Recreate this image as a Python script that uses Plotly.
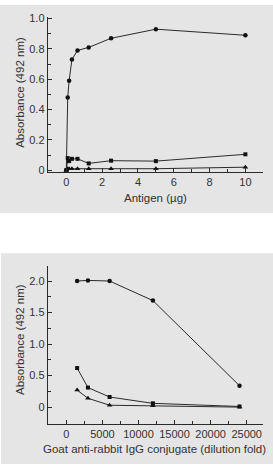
import plotly.graph_objects as go

# ---- Top panel data: Antigen (µg) vs Absorbance ----
antigen = [0, 0.078, 0.156, 0.3125, 0.625, 1.25, 2.5, 5, 10]
top_circle = [0.0, 0.48, 0.59, 0.73, 0.79, 0.81, 0.87, 0.93, 0.89]
top_square = [0.0, 0.08, 0.06, 0.075, 0.075, 0.045, 0.063, 0.06, 0.105]
top_triangle = [0.0, 0.01, 0.01, 0.01, 0.01, 0.01, 0.01, 0.01, 0.02]

# ---- Bottom panel data: conjugate dilution vs Absorbance ----
dilution = [1500, 3000, 6000, 12000, 24000]
bot_circle = [2.0, 2.01, 2.0, 1.69, 0.34]
bot_square = [0.62, 0.31, 0.16, 0.06, 0.01]
bot_triangle = [0.27, 0.14, 0.03, 0.02, 0.0]

top_xticks = [0, 2, 4, 6, 8, 10]
top_yticks = [0, 0.2, 0.4, 0.6, 0.8, 1.0]
top_yticktext = ["0", "0.2", "0.4", "0.6", "0.8", "1.0"]
bot_xticks = [0, 5000, 10000, 15000, 20000, 25000]
bot_xticktext = ["0", "5000", "10000", "15000", "20000", "25000"]
bot_yticks = [0, 0.5, 1.0, 1.5, 2.0]
bot_yticktext = ["0", "0.5", "1.0", "1.5", "2.0"]

W, H = 273, 470
LINE = "#2a2a2a"
TXT = "#333333"
PANEL = "#e5e5e5"
FONT = "Liberation Sans, Arial, sans-serif"
TITLE_SIZE = 11.5

fig = go.Figure()

def add_series(x, y, symbol, xa, ya, size):
    fig.add_trace(go.Scatter(
        x=x, y=y, mode="lines+markers", xaxis=xa, yaxis=ya,
        line=dict(color=LINE, width=1),
        marker=dict(symbol=symbol, size=size, color="#111111"),
        showlegend=False, cliponaxis=False))

add_series(antigen, top_circle, "circle", "x", "y", 4.5)
add_series(antigen, top_square, "square", "x", "y", 4)
add_series(antigen, top_triangle, "triangle-up", "x", "y", 5)
add_series(dilution, bot_circle, "circle", "x2", "y2", 4.5)
add_series(dilution, bot_square, "square", "x2", "y2", 4)
add_series(dilution, bot_triangle, "triangle-up", "x2", "y2", 5)

xdom = [47.7 / W, 263.3 / W]
top_ydom = [1 - 170 / H, 1 - 12.3 / H]
bot_ydom = [1 - 427 / H, 1 - 266 / H]

axis_common = dict(
    showline=True, linecolor=LINE, linewidth=1, showgrid=False, zeroline=False,
    ticks="inside", ticklen=4, tickcolor=LINE, tickwidth=1,
    tickfont=dict(family=FONT, size=11, color=TXT),
)
minor_common = dict(ticks="inside", ticklen=3, tickcolor=LINE, tickwidth=1, showgrid=False)

fig.update_layout(
    width=W, height=H,
    margin=dict(l=0, r=0, t=0, b=0),
    paper_bgcolor="white", plot_bgcolor="rgba(0,0,0,0)",
    font=dict(family=FONT, size=11, color=TXT),
    xaxis=dict(domain=xdom, anchor="y", range=[-1.04, 11.0],
               tickvals=top_xticks, ticktext=[str(v) for v in top_xticks],
               minor=dict(dtick=1, tick0=0, **minor_common), **axis_common),
    yaxis=dict(domain=top_ydom, anchor="x", range=[-0.01, 1.01],
               tickvals=top_yticks, ticktext=top_yticktext,
               minor=dict(dtick=0.1, tick0=0, **minor_common), **axis_common),
    xaxis2=dict(domain=xdom, anchor="y2", range=[-2580, 27300],
                tickvals=bot_xticks, ticktext=bot_xticktext,
                minor=dict(dtick=2500, tick0=0, **minor_common), **axis_common),
    yaxis2=dict(domain=bot_ydom, anchor="x2", range=[-0.265, 2.24],
                tickvals=bot_yticks, ticktext=bot_yticktext,
                minor=dict(dtick=0.25, tick0=0, **minor_common), **axis_common),
    shapes=[
        dict(type="rect", xref="paper", yref="paper", x0=0, x1=1,
             y0=1 - 212 / H, y1=1, fillcolor=PANEL, line=dict(width=0), layer="below"),
        dict(type="rect", xref="paper", yref="paper", x0=1 / W, x1=1,
             y0=1 - 468 / H, y1=1 - 253 / H, fillcolor=PANEL, line=dict(width=0), layer="below"),
    ],
    annotations=[
        dict(text="Absorbance (492 nm)", xref="paper", yref="paper",
             x=20.5 / W, y=1 - 89 / H, showarrow=False, textangle=-90,
             xanchor="center", yanchor="middle", font=dict(family=FONT, size=TITLE_SIZE, color=TXT)),
        dict(text="Antigen (µg)", xref="paper", yref="paper",
             x=155 / W, y=1 - 197 / H, showarrow=False,
             xanchor="center", yanchor="middle", font=dict(family=FONT, size=TITLE_SIZE, color=TXT)),
        dict(text="Absorbance (492 nm)", xref="paper", yref="paper",
             x=20.5 / W, y=1 - 341 / H, showarrow=False, textangle=-90,
             xanchor="center", yanchor="middle", font=dict(family=FONT, size=TITLE_SIZE, color=TXT)),
        dict(text="Goat anti-rabbit IgG conjugate (dilution fold)", xref="paper", yref="paper",
             x=154 / W, y=1 - 453 / H, showarrow=False,
             xanchor="center", yanchor="middle", font=dict(family=FONT, size=TITLE_SIZE, color=TXT)),
    ],
)

fig.write_html("out.html")
